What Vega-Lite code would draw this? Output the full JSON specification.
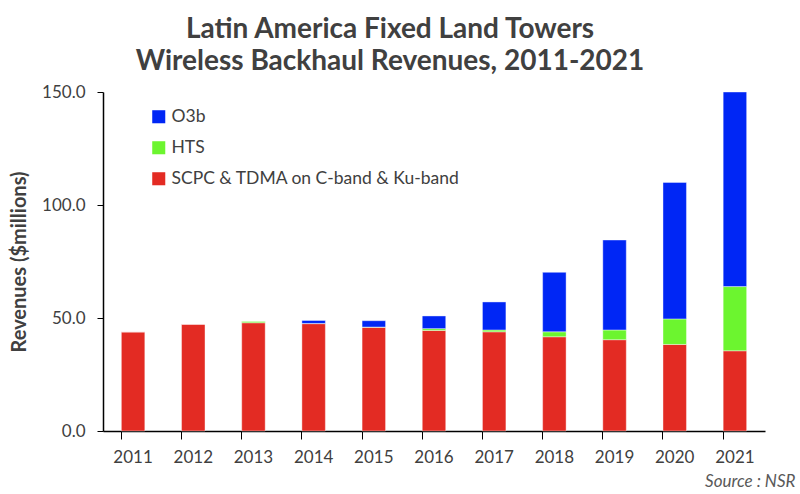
{
  "$schema": "https://vega.github.io/schema/vega-lite/v6.json",
  "description": "Latin America Fixed Land Towers Wireless Backhaul Revenues",
  "autosize": {"type": "none"},
  "padding": {"left": 103, "top": 92, "right": 35, "bottom": 63},
  "width": 662,
  "height": 339,
  "background": "white",
  "title": {
    "text": ["Latin America Fixed Land Towers", "Wireless Backhaul Revenues, 2011-2021"],
    "font": "Lato",
    "fontSize": 28,
    "fontWeight": "bold",
    "color": "#404040",
    "anchor": "middle",
    "dx": -44,
    "offset": 7,
    "lineHeight": 32
  },
  "data": {
    "values": [
      {"year": "2011", "series": "SCPC & TDMA  on C-band & Ku-band", "rank": 1, "value": 43.9},
      {"year": "2011", "series": "HTS", "rank": 2, "value": 0},
      {"year": "2011", "series": "O3b", "rank": 3, "value": 0},
      {"year": "2012", "series": "SCPC & TDMA  on C-band & Ku-band", "rank": 1, "value": 47.3},
      {"year": "2012", "series": "HTS", "rank": 2, "value": 0},
      {"year": "2012", "series": "O3b", "rank": 3, "value": 0},
      {"year": "2013", "series": "SCPC & TDMA  on C-band & Ku-band", "rank": 1, "value": 47.9},
      {"year": "2013", "series": "HTS", "rank": 2, "value": 0.7},
      {"year": "2013", "series": "O3b", "rank": 3, "value": 0},
      {"year": "2014", "series": "SCPC & TDMA  on C-band & Ku-band", "rank": 1, "value": 47.5},
      {"year": "2014", "series": "HTS", "rank": 2, "value": 0.1},
      {"year": "2014", "series": "O3b", "rank": 3, "value": 1.3},
      {"year": "2015", "series": "SCPC & TDMA  on C-band & Ku-band", "rank": 1, "value": 45.9},
      {"year": "2015", "series": "HTS", "rank": 2, "value": 0.1},
      {"year": "2015", "series": "O3b", "rank": 3, "value": 2.8},
      {"year": "2016", "series": "SCPC & TDMA  on C-band & Ku-band", "rank": 1, "value": 44.5},
      {"year": "2016", "series": "HTS", "rank": 2, "value": 0.8},
      {"year": "2016", "series": "O3b", "rank": 3, "value": 5.6},
      {"year": "2017", "series": "SCPC & TDMA  on C-band & Ku-band", "rank": 1, "value": 43.9},
      {"year": "2017", "series": "HTS", "rank": 2, "value": 0.8},
      {"year": "2017", "series": "O3b", "rank": 3, "value": 12.4},
      {"year": "2018", "series": "SCPC & TDMA  on C-band & Ku-band", "rank": 1, "value": 41.7},
      {"year": "2018", "series": "HTS", "rank": 2, "value": 2.2},
      {"year": "2018", "series": "O3b", "rank": 3, "value": 26.3},
      {"year": "2019", "series": "SCPC & TDMA  on C-band & Ku-band", "rank": 1, "value": 40.4},
      {"year": "2019", "series": "HTS", "rank": 2, "value": 4.3},
      {"year": "2019", "series": "O3b", "rank": 3, "value": 39.8},
      {"year": "2020", "series": "SCPC & TDMA  on C-band & Ku-band", "rank": 1, "value": 38.3},
      {"year": "2020", "series": "HTS", "rank": 2, "value": 11.3},
      {"year": "2020", "series": "O3b", "rank": 3, "value": 60.4},
      {"year": "2021", "series": "SCPC & TDMA  on C-band & Ku-band", "rank": 1, "value": 35.5},
      {"year": "2021", "series": "HTS", "rank": 2, "value": 28.4},
      {"year": "2021", "series": "O3b", "rank": 3, "value": 86.1}
    ]
  },
  "mark": {"type": "bar", "stroke": "#ffffff", "strokeOpacity": 0.5, "strokeWidth": 0.8},
  "encoding": {
    "x": {
      "field": "year",
      "type": "ordinal",
      "scale": {"paddingInner": 0.61, "paddingOuter": 0.305},
      "axis": {
        "title": "Source : NSR",
        "titleFont": "Lato",
        "titleFontSize": 17,
        "titleFontWeight": "normal",
        "titleFontStyle": "italic",
        "titleColor": "#595959",
        "titleAnchor": "end",
        "titleAlign": "right",
        "titleBaseline": "middle",
        "titleX": 692,
        "titleY": 50,
        "labelAngle": 0,
        "labelFont": "Lato",
        "labelFontSize": 17,
        "labelColor": "#404040",
        "labelPadding": 10,
        "bandPosition": 0,
        "tickSize": 8,
        "tickColor": "#000000",
        "domainColor": "#000000",
        "domainWidth": 1.5,
        "grid": false
      }
    },
    "y": {
      "field": "value",
      "type": "quantitative",
      "stack": "zero",
      "scale": {"domain": [0, 150], "nice": false},
      "axis": {
        "title": "Revenues ($millions)",
        "titleFont": "Lato",
        "titleFontSize": 20,
        "titleFontWeight": "bold",
        "titleColor": "#404040",
        "titlePadding": 12,
        "values": [0, 50, 100, 150],
        "format": ".1f",
        "labelFont": "Lato",
        "labelFontSize": 17,
        "labelColor": "#404040",
        "labelPadding": 12,
        "tickSize": 6,
        "tickColor": "#000000",
        "domainColor": "#000000",
        "domainWidth": 1.5,
        "grid": false
      }
    },
    "color": {
      "field": "series",
      "type": "nominal",
      "scale": {
        "domain": ["O3b", "HTS", "SCPC & TDMA  on C-band & Ku-band"],
        "range": ["#0026F5", "#6CF52F", "#E32B23"]
      },
      "legend": {
        "title": null,
        "orient": "none",
        "legendX": 47,
        "legendY": 16,
        "symbolType": "square",
        "symbolSize": 170,
        "symbolStrokeWidth": 0,
        "labelFont": "Lato",
        "labelFontSize": 17.5,
        "labelColor": "#404040",
        "labelLimit": 0,
        "rowPadding": 12,
        "labelOffset": 4
      }
    },
    "order": {"field": "rank", "type": "quantitative", "sort": "ascending"}
  },
  "config": {"view": {"stroke": null}}
}
